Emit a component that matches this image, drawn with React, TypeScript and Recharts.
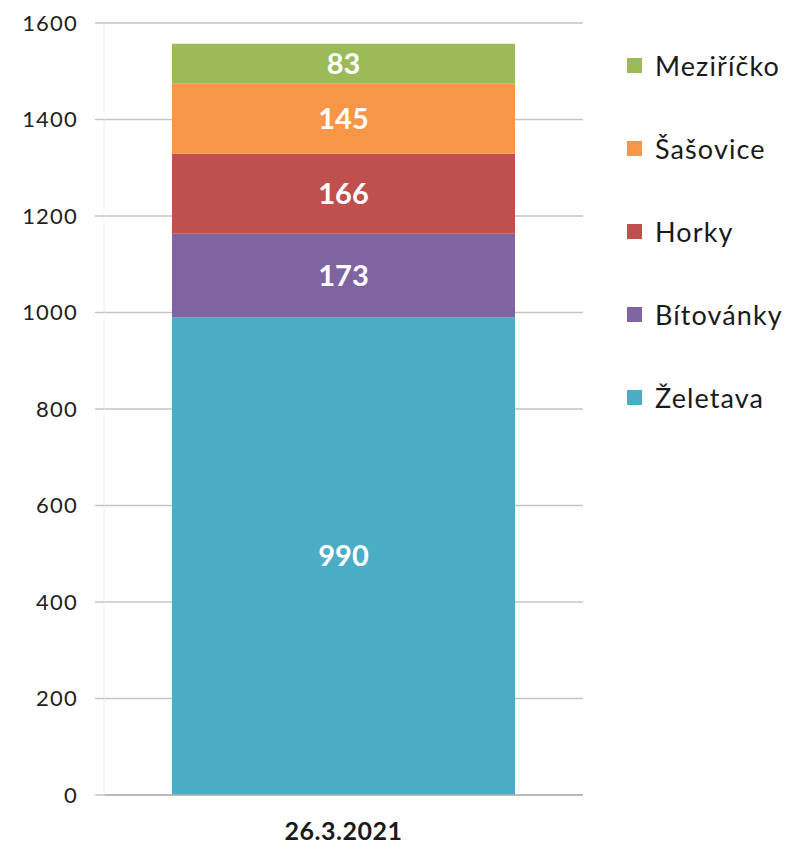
import { BarChart, Bar, XAxis, YAxis, CartesianGrid, LabelList } from "recharts";

const CATEGORIES = ["26.3.2021"];
const SERIES_NAMES = ["Želetava", "Bítovánky", "Horky", "Šašovice", "Meziříčko"];
const SERIES_COLORS = ["#4BACC6", "#8064A2", "#C0504D", "#F79646", "#9BBB59"];
const SERIES_VALUES = [[990], [173], [166], [145], [83]];
const Y_TICKS = [0, 200, 400, 600, 800, 1000, 1200, 1400, 1600];

const FONT = "Lato, 'Open Sans', sans-serif";

const data = CATEGORIES.map((cat, i) => {
  const row: Record<string, string | number> = { date: cat };
  SERIES_NAMES.forEach((name, s) => {
    row[name] = SERIES_VALUES[s][i];
  });
  return row;
});

export default function App() {
  return (
    <div style={{ position: "relative", width: 787, height: 837, fontFamily: FONT }}>
      <BarChart
        width={787}
        height={837}
        data={data}
        margin={{ top: 15, right: 212, bottom: 0, left: 0 }}
        barCategoryGap={68}
      >
        <CartesianGrid vertical={false} stroke="#c4c4c4" strokeWidth={1.5} />
        <XAxis
          dataKey="date"
          height={50}
          axisLine={{ stroke: "#b0b0b0", strokeWidth: 1.5 }}
          tickLine={false}
          tickMargin={21}
          tick={{ fill: "#1a1a1a", fontSize: 25, fontWeight: 700, fontFamily: FONT, letterSpacing: 0.5 }}
        />
        <YAxis
          width={96}
          domain={[0, 1600]}
          ticks={Y_TICKS}
          interval={0}
          tickSize={9}
          tickMargin={17}
          axisLine={{ stroke: "#eeeeee" }}
          tickLine={{ stroke: "#c4c4c4", strokeWidth: 1.5 }}
          tick={{ fill: "#222", fontSize: 22, fontFamily: FONT, letterSpacing: 1.2 }}
        />
        {SERIES_NAMES.map((name, s) => (
          <Bar key={name} dataKey={name} stackId="a" fill={SERIES_COLORS[s]} isAnimationActive={false}>
            <LabelList
              dataKey={name}
              position="center"
              fill="#ffffff"
              fontSize={29}
              fontWeight={700}
              fontFamily={FONT}
            />
          </Bar>
        ))}
      </BarChart>
      <div style={{ position: "absolute", left: 619, top: 16, fontFamily: FONT, width: 170 }}>
        {[...SERIES_NAMES].reverse().map((name, i) => {
          const color = SERIES_COLORS[SERIES_NAMES.length - 1 - i];
          return (
            <div key={name} style={{ display: "flex", alignItems: "center", height: 83, whiteSpace: "nowrap" }}>
              <span style={{ flex: "none", width: 15, height: 15, background: color, marginRight: 13 }} />
              <span style={{ fontSize: 27, letterSpacing: 1.1, color: "#1a1a1a" }}>{name}</span>
            </div>
          );
        })}
      </div>
    </div>
  );
}
